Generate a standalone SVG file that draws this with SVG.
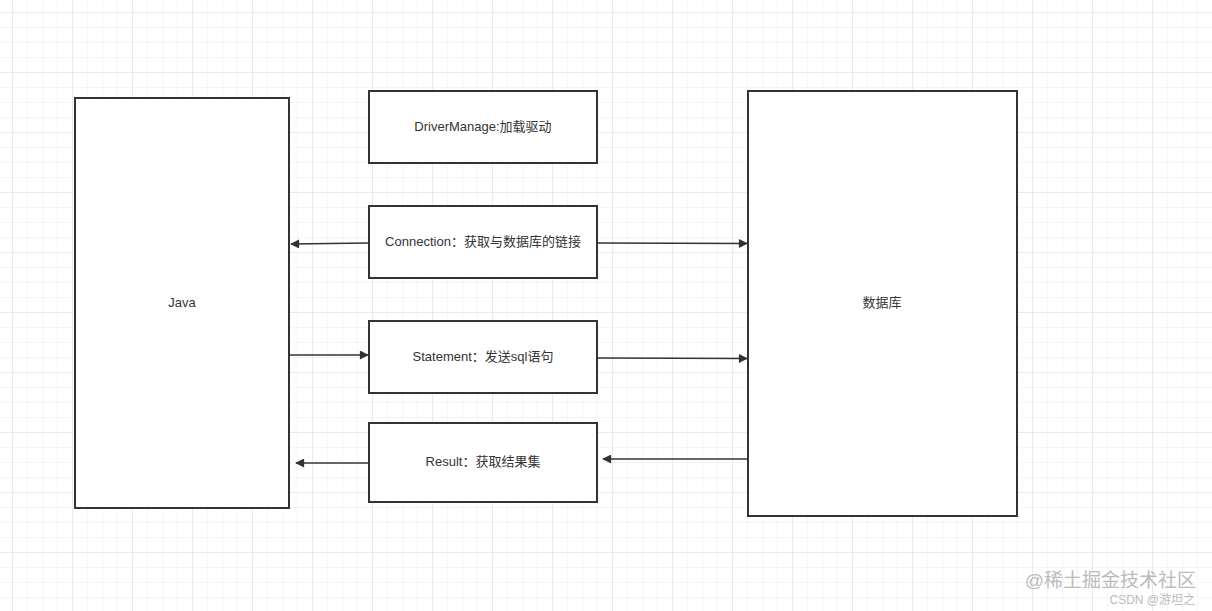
<svg xmlns="http://www.w3.org/2000/svg" width="1212" height="611" viewBox="0 0 1212 611">
<defs>
<pattern id="g" x="12" y="12" width="15" height="15" patternUnits="userSpaceOnUse"><path d="M0 0H15M0 0V15" fill="none" stroke="#ebebeb" stroke-width="1"/></pattern>
<pattern id="G" x="12" y="12" width="60" height="60" patternUnits="userSpaceOnUse"><path d="M0 0H60M0 0V60" fill="none" stroke="#e0e0e0" stroke-width="1"/></pattern>
<marker id="a" viewBox="0 0 10 10" refX="9" refY="5" markerWidth="10" markerHeight="9" orient="auto" markerUnits="userSpaceOnUse"><path d="M0 0L10 5L0 10Z" fill="#333"/></marker>
</defs>
<style>
.b{fill:#fff;stroke:#333;stroke-width:2}
.t{font-family:"Liberation Sans","Noto Sans CJK SC",sans-serif;font-size:13px;fill:#333;text-anchor:middle;dominant-baseline:middle}
.c{stroke:#333;stroke-width:1.5;fill:none;marker-end:url(#a)}
.w{font-family:"Liberation Sans","Noto Sans CJK SC",sans-serif;fill:#bbb;text-anchor:end}
</style>
<rect width="1212" height="611" fill="#fff"/>
<rect width="1212" height="611" fill="url(#g)"/>
<rect width="1212" height="611" fill="url(#G)"/>
<g id="java"><rect class="b" x="75" y="98" width="214" height="410"/><text class="t" x="182" y="304">Java</text></g>
<g id="db"><rect class="b" x="748" y="91" width="269" height="425"/><text class="t" x="882" y="304">数据库</text></g>
<g id="driver"><rect class="b" x="369" y="91" width="228" height="72"/><text class="t" x="483" y="128">DriverManage:加载驱动</text></g>
<g id="conn"><rect class="b" x="369" y="206" width="228" height="72"/><text class="t" x="483" y="243">Connection：获取与数据库的链接</text></g>
<g id="stmt"><rect class="b" x="369" y="321" width="228" height="72"/><text class="t" x="483" y="358">Statement：发送sql语句</text></g>
<g id="result"><rect class="b" x="369" y="423" width="228" height="79"/><text class="t" x="483" y="463">Result：获取结果集</text></g>
<g id="connectors">
<path class="c" d="M369 243L291 244"/>
<path class="c" d="M597 243L747 243.5"/>
<path class="c" d="M289 355L368 355"/>
<path class="c" d="M597 358L747 358.5"/>
<path class="c" d="M369 463L296 463"/>
<path class="c" d="M748 459L603 459"/>
</g>
<text class="w" x="1196" y="587" font-size="19">@稀土掘金技术社区</text>
<text class="w" x="1195" y="604" font-size="12" fill="#aaa">CSDN @游坦之</text>
</svg>
